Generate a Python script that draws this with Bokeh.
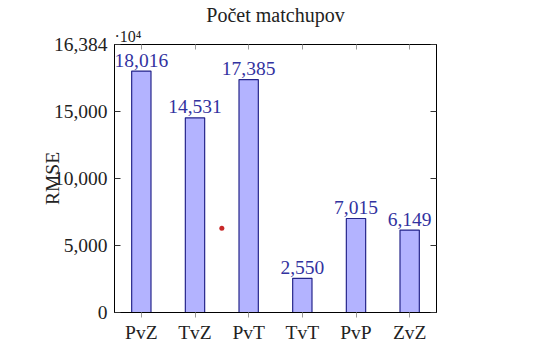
from bokeh.plotting import figure
from bokeh.models import Range1d, LinearAxis, FixedTicker, Title
from bokeh.embed import file_html
from bokeh.resources import INLINE
from bokeh.core.properties import value

# ---- data ----
categories = ["PvZ", "TvZ", "PvT", "TvT", "PvP", "ZvZ"]
counts = [18016, 14531, 17385, 2550, 7015, 6149]
count_labels = ["18,016", "14,531", "17,385", "2,550", "7,015", "6,149"]
y_ticks = [0, 5000, 10000, 15000, 20000]
y_tick_labels = ["0", "5,000", "10,000", "15,000", "16,384"]
stray_x = [1.5]
stray_y = [6290]
title_text = "Počet matchupov"
y_label = "RMSE"
scale_text = "·10⁴"

FONT = "Liberation Serif"
FS = "19.5px"
INK = "#222222"

x_pos = list(range(len(categories)))

X0, X1, Y0, Y1 = -0.5, 5.5, 0, 20000
FL, FR, FT, FB = 114, 436, 44, 312

p = figure(width=540, height=354, output_backend="svg", toolbar_location=None,
           x_range=Range1d(X0, X1), y_range=Range1d(Y0, Y1),
           min_border_left=FL, min_border_right=540 - FR,
           min_border_top=FT, min_border_bottom=354 - FB,
           x_axis_location=None, y_axis_location=None,
           title=title_text)
p.title.align = "center"
p.title.text_font = FONT
p.title.text_font_size = "20px"
p.title.text_font_style = "normal"
p.title.text_color = INK
p.title.standoff = 0
p.xgrid.visible = False
p.ygrid.visible = False
p.outline_line_color = "black"
p.outline_line_width = 1
p.background_fill_color = "white"
p.border_fill_color = "white"


def base_axis(ax, tick_in, tick_out, tick_color):
    ax.axis_line_color = "black"
    ax.major_tick_in = tick_in
    ax.major_tick_out = tick_out
    ax.major_tick_line_color = tick_color
    ax.major_tick_line_width = 1
    ax.minor_tick_line_color = None
    ax.major_label_text_font = FONT
    ax.major_label_text_font_size = FS
    ax.major_label_text_color = INK


def ticks_only(ax):
    ax.major_label_text_color = None
    ax.major_label_text_font_size = "1px"
    ax.major_label_standoff = 0


left = LinearAxis(ticker=FixedTicker(ticks=y_ticks),
                  major_label_overrides={t: l for t, l in zip(y_ticks, y_tick_labels)},
                  axis_label=y_label)
base_axis(left, 6, 0, "#333333")
left.major_label_standoff = 7
left.axis_label_text_font = FONT
left.axis_label_text_font_size = FS
left.axis_label_text_font_style = "normal"
left.axis_label_text_color = INK
left.axis_label_standoff = -12
p.add_layout(left, "left")

right = LinearAxis(ticker=FixedTicker(ticks=y_ticks))
base_axis(right, 6, 0, "#333333")
ticks_only(right)
p.add_layout(right, "right")

bottom = LinearAxis(ticker=FixedTicker(ticks=x_pos),
                    major_label_overrides={i: c for i, c in zip(x_pos, categories)})
base_axis(bottom, 0, 5, "#999999")
bottom.major_label_standoff = 4
p.add_layout(bottom, "below")

top = LinearAxis(ticker=FixedTicker(ticks=x_pos))
base_axis(top, 5, 0, "#999999")
ticks_only(top)
p.add_layout(top, "above")

p.add_layout(Title(text=scale_text, align="left", text_font=FONT,
                   text_font_size="16px", text_font_style="normal",
                   text_color=INK, standoff=0), "above")

p.vbar(x=x_pos, top=counts, width=0.36, fill_color="#b3b3ff",
       line_color="#25258a", line_width=1.2)

p.text(x=x_pos, y=counts, text=count_labels, text_align="center",
       text_baseline="alphabetic", y_offset=-11,
       text_font=value(FONT), text_font_size=FS, text_color="#3232a0")

p.scatter(x=stray_x, y=stray_y, size=5, color="#c82828", line_color=None)

open("out.html", "w").write(file_html(p, INLINE))
